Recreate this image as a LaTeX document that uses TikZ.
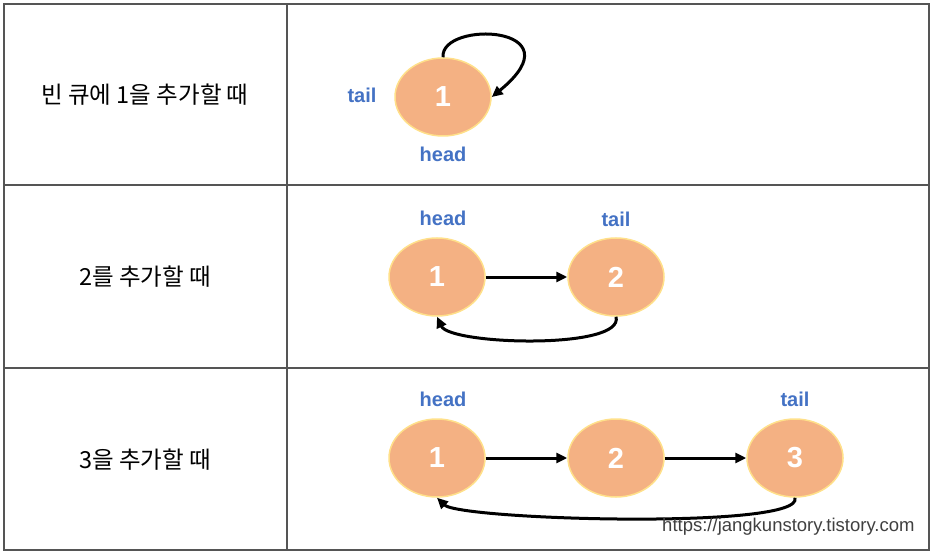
\documentclass[tikz,border=0pt]{standalone}
\usepackage{fontspec}
\setmainfont{Liberation Sans}
\newfontfamily\kr{Noto Sans CJK KR}
\usetikzlibrary{shapes.geometric,arrows.meta}
\definecolor{nodefill}{HTML}{F4B183}
\definecolor{nodeedge}{HTML}{FFE08A}
\definecolor{lblblue}{HTML}{4472C4}
\definecolor{gridline}{HTML}{555555}
\tikzset{
  qnode/.style={ellipse, fill=nodefill, draw=nodeedge, line width=1.5pt, minimum width=96pt, minimum height=78pt, inner sep=0pt, text=white, font=\fontsize{29}{32}\selectfont\bfseries},
  ptr/.style={text=lblblue, font=\fontsize{20}{24}\selectfont\bfseries},
  rowlbl/.style={font=\kr\fontsize{23.5}{28}\selectfont},
  link/.style={-{Triangle[length=11pt,width=10pt]}, line width=3pt, black},
  cell/.style={draw=gridline, line width=1.3pt}
}
\begin{document}
\begin{tikzpicture}[x=1pt,y=-1pt]
\useasboundingbox (0,0) rectangle (933,553);
% table
\draw[cell] (4,4) rectangle (929,550);
\draw[cell] (287,4) -- (287,550);
\draw[cell] (4,185) -- (929,185);
\draw[cell] (4,368) -- (929,368);
% row labels
\node[rowlbl] (r1) at (145,95) {빈 큐에 1을 추가할 때};
\node[rowlbl] (r2) at (145,277) {2를 추가할 때};
\node[rowlbl] (r3) at (145,460) {3을 추가할 때};
% row 1
\node[qnode] (a1) at (443,97) {1};
\node[ptr] (t1) at (362,95) {tail};
\node[ptr] (h1) at (443,154) {head};
\draw[link] (a1.north) .. controls (440,20) and (580,25) .. (a1.east);
% row 2
\node[qnode] (b1) at (437,277) {1};
\node[qnode] (b2) at (616,277) {2};
\node[ptr] (h2) at (443,218) {head};
\node[ptr] (t2) at (616,219) {tail};
\draw[link] (b1.east) -- (b2.west);
\draw[link] (b2.south) .. controls (625,350) and (450,345) .. (b1.south);
% row 3
\node[qnode] (c1) at (437,458) {1};
\node[qnode] (c2) at (616,458) {2};
\node[qnode] (c3) at (795,458) {3};
\node[ptr] (h3) at (443,399) {head};
\node[ptr] (t3) at (795,399) {tail};
\draw[link] (c1.east) -- (c2.west);
\draw[link] (c2.east) -- (c3.west);
\draw[link] (c3.south) .. controls (805,530) and (460,520) .. (c1.south);
% watermark
\node[text=black!75, font=\fontsize{18.5}{20}\selectfont, anchor=east] (wm) at (918,527) {https://jangkunstory.tistory.com};
\end{tikzpicture}
\end{document}
